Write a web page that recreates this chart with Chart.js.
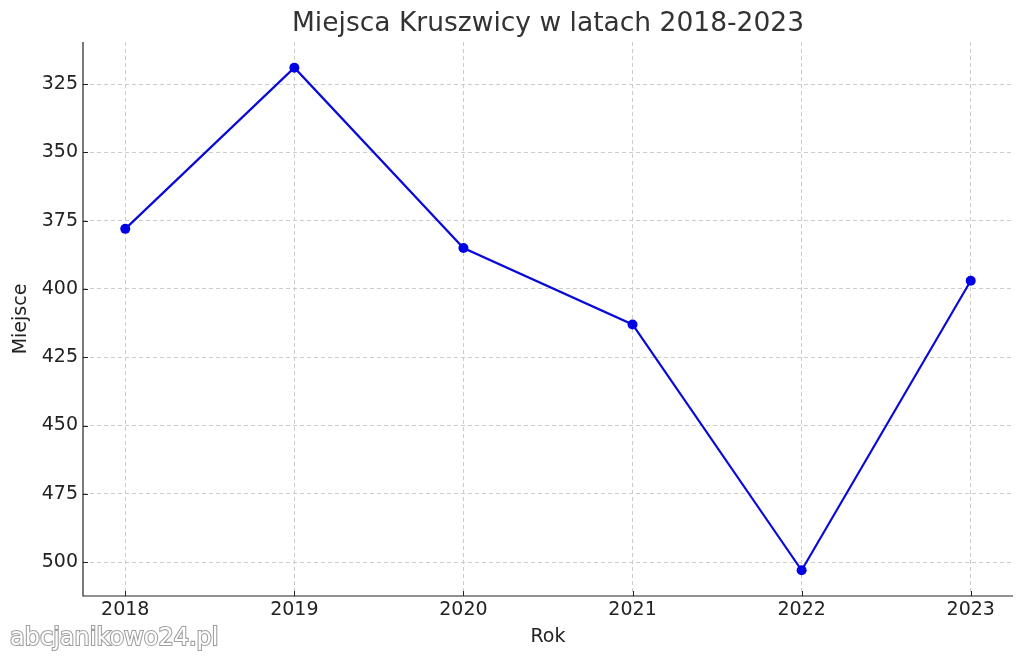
<!DOCTYPE html>
<html><head><meta charset="utf-8">
<script src="https://cdn.jsdelivr.net/npm/chart.js@4.4.0/dist/chart.umd.min.js"></script>
<style>html,body{margin:0;padding:0;background:#fff}#w{width:1024px;height:660px}</style>
</head><body><div id="w"><canvas id="c" width="1024" height="660"></canvas></div>
<script>
const years = [2018, 2019, 2020, 2021, 2022, 2023];
const places = [378, 319, 385, 413, 503, 397];
const yTicks = [325, 350, 375, 400, 425, 450, 475, 500];
const titleText = 'Miejsca Kruszwicy w latach 2018-2023';
const xTitle = 'Rok';
const yTitle = 'Miejsce';
const watermark = 'abcjanikowo24.pl';

const FONT = "'DejaVu Sans', sans-serif";

const decor = {
  id: 'decor',
  afterDraw(chart) {
    const ctx = chart.ctx, a = chart.chartArea;
    const xs = chart.scales.x, ys = chart.scales.y;
    ctx.save();
    ctx.strokeStyle = '#222';
    ctx.lineWidth = 1.2;
    ctx.beginPath();
    ctx.moveTo(a.left, a.top); ctx.lineTo(a.left, a.bottom); ctx.lineTo(a.right, a.bottom);
    ctx.stroke();
    ctx.lineWidth = 1;
    ctx.beginPath();
    years.forEach(v => { const p = Math.round(xs.getPixelForValue(v)) + 0.5; ctx.moveTo(p, a.bottom); ctx.lineTo(p, a.bottom - 5); });
    yTicks.forEach(v => { const p = Math.round(ys.getPixelForValue(v)) + 0.5; ctx.moveTo(a.left, p); ctx.lineTo(a.left + 5, p); });
    ctx.stroke();
    // title
    ctx.fillStyle = '#333';
    ctx.font = "26.5px " + FONT;
    ctx.textAlign = 'center';
    ctx.textBaseline = 'middle';
    ctx.fillText(titleText, (a.left + a.right) / 2, 24);
    // watermark
    ctx.textAlign = 'left';
    ctx.font = "24px " + FONT;
    ctx.textBaseline = 'alphabetic';
    ctx.lineWidth = 2.2;
    ctx.strokeStyle = 'rgba(120,120,120,0.7)';
    ctx.strokeText(watermark, 10, 645);
    ctx.fillStyle = '#ffffff';
    ctx.fillText(watermark, 10, 645);
    ctx.restore();
  }
};

new Chart(document.getElementById('c'), {
  type: 'line',
  data: {
    datasets: [{
      data: years.map((y, i) => ({ x: y, y: places[i] })),
      borderColor: '#0a0ad8',
      backgroundColor: '#0000e6',
      borderWidth: 2.2,
      pointRadius: 5,
      pointHoverRadius: 5,
      pointBorderWidth: 0,
      tension: 0
    }]
  },
  options: {
    responsive: false,
    animation: false,
    layout: { padding: { left: 10, right: 11, top: 42, bottom: 12 } },
    plugins: {
      legend: { display: false },
      tooltip: { enabled: false },
      title: { display: false }
    },
    scales: {
      x: {
        type: 'linear', min: 2017.75, max: 2023.25,
        afterBuildTicks(s) { s.ticks = years.map(v => ({ value: v })); },
        ticks: { color: '#222', font: { family: FONT, size: 19 }, padding: 3, callback: v => String(v) },
        grid: { color: '#cccccc', lineWidth: 1, drawTicks: false },
        border: { display: false, dash: [4, 3] },
        title: { display: true, text: xTitle, color: '#222', font: { family: FONT, size: 19 }, padding: { top: 0, bottom: 0 } },
        afterFit(s) { s.height = 52; }
      },
      y: {
        type: 'linear', reverse: true, min: 309.6, max: 512.4,
        afterBuildTicks(s) { s.ticks = yTicks.map(v => ({ value: v })); },
        ticks: { color: '#222', font: { family: FONT, size: 19 }, padding: 5 },
        grid: { color: '#cccccc', lineWidth: 1, drawTicks: false },
        border: { display: false, dash: [4, 3] },
        title: { display: true, text: yTitle, color: '#222', font: { family: FONT, size: 19 }, padding: { top: 0, bottom: 0 } },
        afterFit(s) { s.width = 73; }
      }
    }
  },
  plugins: [decor]
});
</script></body></html>
